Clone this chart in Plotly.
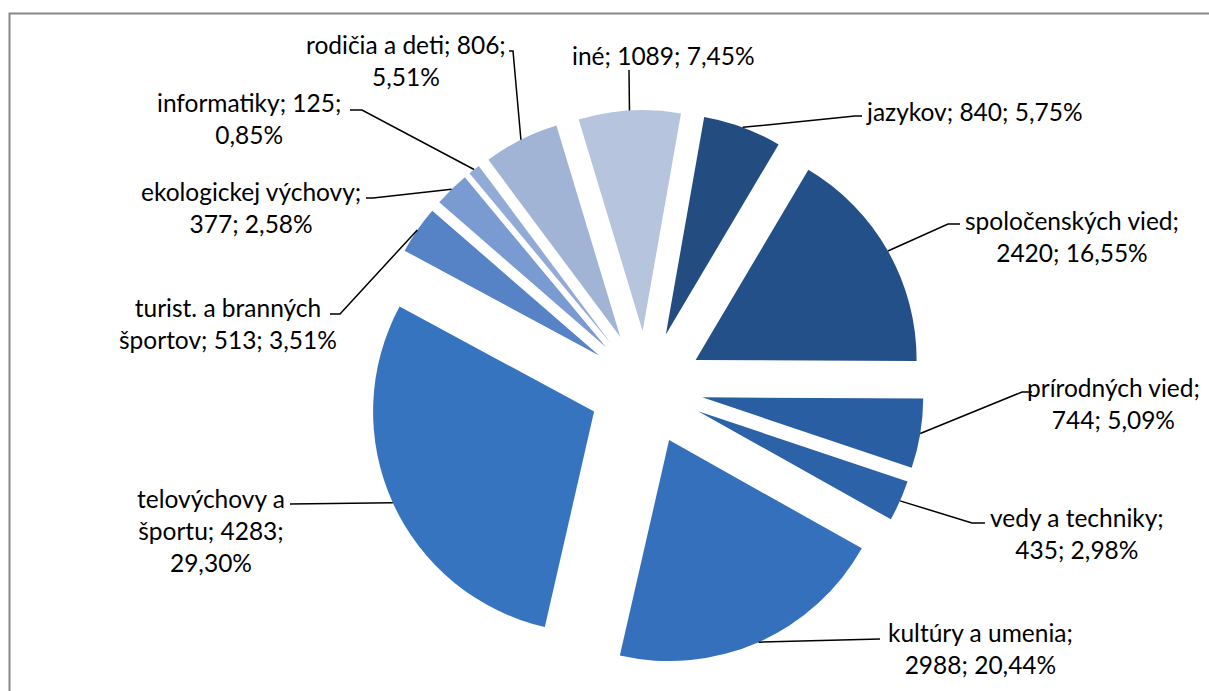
import math
import plotly.graph_objects as go

# ---------------- data ----------------
categories = ["jazykov", "spoločenských vied", "prírodných vied", "vedy a techniky",
              "kultúry a umenia", "telovýchovy a športu", "turist. a branných športov",
              "ekologickej výchovy", "informatiky", "rodičia a deti", "iné"]
values = [840, 2420, 744, 435, 2988, 4283, 513, 377, 125, 806, 1089]
colors = ["#234c80", "#245089", "#2a5ea3", "#2c62a8", "#3470bb", "#3674c0",
          "#5682c6", "#7a9bd2", "#92aad6", "#a2b4d6", "#b7c4de"]

# label text line breaks (how Excel wrapped them)
label_lines = [
    ["{n}; {v}; {p}"],
    ["{n};", "{v}; {p}"],
    ["{n};", "{v}; {p}"],
    ["{n};", "{v}; {p}"],
    ["{n};", "{v}; {p}"],
    ["telovýchovy a", "športu; {v};", "{p}"],
    ["turist. a branných", "športov; {v}; {p}"],
    ["{n};", "{v}; {p}"],
    ["{n}; {v};", "{p}"],
    ["{n}; {v};", "{p}"],
    ["{n}; {v}; {p}"],
]

# ---------------- layout constants (pixels) ----------------
W, H = 1209, 691
CX, CY = 646, 388          # pie centre
RT = 278                   # outer radius incl. explosion
PULL = 0.258
ROT = 10

# text centre, and leader-line points (elbow, end) near the text
label_pos = [
    (974, 112, [(855, 116), (862, 116)]),
    (1072, 236, [(948, 224), (960, 224)]),
    (1113, 403, [(1022, 392), (1032, 392)]),
    (1077, 533, [(972, 523), (985, 523)]),
    (980, 648, [(880, 639)]),
    (211, 530, [(290, 504)]),
    (228, 324, [(340, 314), (330, 314)]),
    (251, 207, [(373, 198), (366, 198)]),
    (249, 118, [(362, 110), (350, 110)]),
    (406, 60, [(513, 51), (509, 51)]),
    (663, 55, [(629, 70)]),
]

FONT = dict(family="Lato, 'Open Sans', sans-serif", size=24.5, color="#000000")


def px(x):
    return x / W


def py(y):
    return 1 - y / H


total = sum(values)

fig = go.Figure()
fig.add_trace(go.Pie(
    labels=categories, values=values, sort=False, direction="clockwise",
    rotation=ROT, pull=[PULL] * len(values), textinfo="none",
    marker=dict(colors=colors, line=dict(width=0)),
    domain=dict(x=[px(CX - RT), px(CX + RT)], y=[py(CY + RT), py(CY - RT)]),
    showlegend=False, hoverinfo="label+value+percent",
))

annotations = []
shapes = []
cum = 0
for i, (name, v) in enumerate(zip(categories, values)):
    frac = v / total
    mid = cum + frac / 2
    cum += frac
    theta = math.radians(ROT + 360 * mid)
    ax_, ay_ = CX + RT * math.sin(theta), CY - RT * math.cos(theta)
    pct = f"{100 * frac:.2f}".replace(".", ",") + "%"
    text = "<br>".join(l.format(n=name, v=v, p=pct) for l in label_lines[i])
    tx, ty, pts = label_pos[i]
    annotations.append(dict(x=px(tx), y=py(ty), xref="paper", yref="paper",
                            text=text, showarrow=False, xanchor="center",
                            yanchor="middle", align="center", font=FONT))
    path = f"M {px(ax_)},{py(ay_)}" + "".join(f" L {px(a)},{py(b)}" for a, b in pts)
    shapes.append(dict(type="path", xref="paper", yref="paper", path=path,
                       line=dict(color="#000000", width=1.5)))

# chart-area border (top and left visible); extends past the right/bottom edges
shapes.append(dict(type="path", xref="paper", yref="paper",
                   path=f"M {px(9.5)},0 L {px(9.5)},{py(13.5)} L {px(W + 20)},{py(13.5)}",
                   line=dict(color="#878787", width=2)))

fig.update_layout(width=W, height=H, margin=dict(l=0, r=0, t=0, b=0),
                  paper_bgcolor="white", plot_bgcolor="white",
                  annotations=annotations, shapes=shapes)

fig.write_html("out.html", config={"displayModeBar": False},
               post_script=("document.body.style.margin='0';"
                            "document.body.style.overflow='hidden';"
                            "document.documentElement.style.overflow='hidden';"))
